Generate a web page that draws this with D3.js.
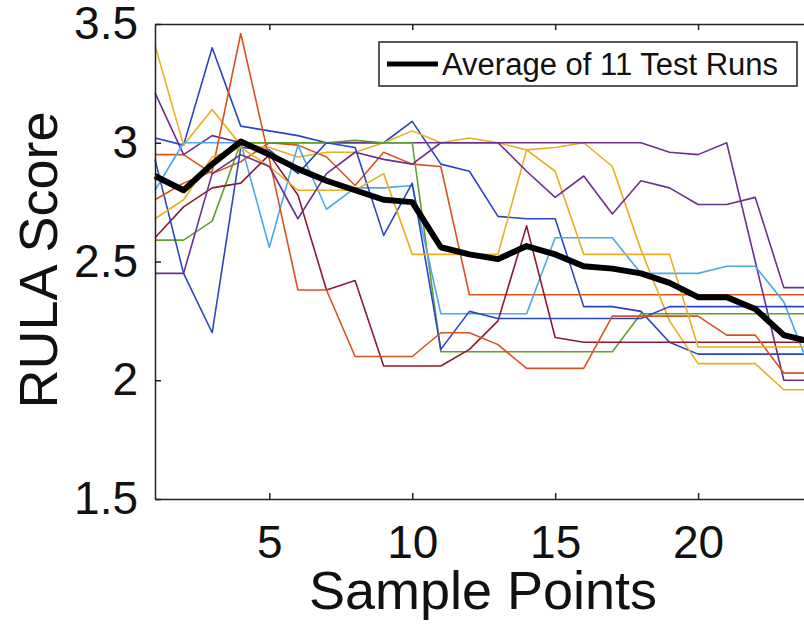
<!DOCTYPE html>
<html>
<head>
<meta charset="utf-8">
<script src="https://cdn.jsdelivr.net/npm/d3@7"></script>
<style>
  body { margin: 0; background: #fff; }
  text { font-family: "Liberation Sans", Arial, sans-serif; fill: #111; }
</style>
</head>
<body>
<script>
// sample points 1..24 (the figure is cut off on the right)
const samples = d3.range(1, 25);

const run1  = [3.02, 2.99, 3.40, 3.07, 3.05, 3.03, 3.00, 3.00, 3.00, 3.09, 2.91, 2.88, 2.69, 2.68, 2.68, 2.31, 2.31, 2.29, 2.16, 2.11, 2.11, 2.11, 2.11, 2.11];
const run2  = [2.95, 2.95, 2.87, 2.92, 3.00, 2.99, 2.94, 2.82, 2.96, 2.91, 2.90, 2.36, 2.36, 2.36, 2.36, 2.36, 2.36, 2.36, 2.36, 2.36, 2.36, 2.36, 2.36, 2.36];
const run3  = [3.41, 2.99, 3.14, 2.99, 2.98, 2.94, 2.96, 2.96, 3.00, 3.05, 3.00, 3.02, 3.00, 2.97, 2.98, 3.00, 2.90, 2.55, 2.25, 2.07, 2.07, 2.07, 1.96, 1.96];
const run4  = [3.21, 2.95, 3.03, 3.00, 3.00, 3.00, 3.00, 3.00, 3.00, 3.00, 3.00, 3.00, 3.00, 3.00, 3.00, 3.00, 3.00, 3.00, 2.96, 2.95, 3.00, 2.50, 2.00, 2.00];
const run5  = [2.59, 2.59, 2.67, 3.00, 3.00, 3.00, 3.00, 3.01, 3.00, 3.00, 2.12, 2.12, 2.12, 2.12, 2.12, 2.12, 2.12, 2.28, 2.28, 2.28, 2.28, 2.28, 2.28, 2.28];
const run6  = [2.80, 3.00, 3.00, 3.00, 2.56, 2.99, 2.72, 2.81, 2.81, 2.82, 2.28, 2.28, 2.28, 2.28, 2.60, 2.60, 2.60, 2.45, 2.45, 2.45, 2.48, 2.48, 2.33, 2.02];
const run7  = [2.60, 2.73, 2.81, 2.83, 2.95, 2.78, 2.38, 2.42, 2.06, 2.06, 2.06, 2.13, 2.25, 2.65, 2.18, 2.16, 2.16, 2.16, 2.16, 2.16, 2.16, 2.16, 2.16, 2.16];
const run8  = [2.93, 2.45, 2.20, 2.98, 2.97, 2.87, 3.00, 2.98, 2.61, 2.83, 2.13, 2.29, 2.26, 2.26, 2.26, 2.26, 2.26, 2.26, 2.31, 2.31, 2.31, 2.31, 2.31, 2.31];
const run9  = [2.76, 2.83, 2.88, 3.46, 2.93, 2.38, 2.38, 2.10, 2.10, 2.10, 2.20, 2.20, 2.15, 2.05, 2.05, 2.05, 2.27, 2.27, 2.27, 2.27, 2.19, 2.19, 2.03, 2.03];
const run10 = [2.68, 2.76, 2.94, 2.98, 2.90, 2.80, 2.80, 2.80, 2.87, 2.53, 2.53, 2.53, 2.53, 2.97, 2.88, 2.53, 2.53, 2.53, 2.53, 2.14, 2.14, 2.14, 2.14, 2.14];
const run11 = [2.45, 2.45, 2.87, 2.95, 2.90, 2.68, 2.87, 2.96, 2.93, 2.91, 3.00, 3.00, 3.00, 2.88, 2.77, 2.86, 2.70, 2.84, 2.81, 2.74, 2.74, 2.77, 2.39, 2.39];

const average = [2.86, 2.80, 2.91, 3.005, 2.95, 2.89, 2.84, 2.80, 2.76, 2.75, 2.56, 2.53, 2.51, 2.565, 2.53, 2.48, 2.47, 2.45, 2.41, 2.35, 2.35, 2.30, 2.19, 2.16];

const runs = [run1, run2, run3, run4, run5, run6, run7, run8, run9, run10, run11];
// matlab-ish colour order, cycling after 7
const runColors = ['#2b45c2', '#d9531e', '#e8b020', '#6b2f8e', '#5f9e2f', '#4aa8ee', '#8c1a30',
                   '#2b45c2', '#d9531e', '#e8b020', '#6b2f8e'];

const xTicks = [5, 10, 15, 20];
const yTicks = [1.5, 2, 2.5, 3, 3.5];

const svg = d3.select('body').append('svg').attr('width', 804).attr('height', 637);

const x = d3.scaleLinear().domain([1, 25]).range([155, 841]);
const y = d3.scaleLinear().domain([1.5, 3.5]).range([499, 24]);

const line = d3.line().x((d, i) => x(samples[i])).y(d => y(d));

// thin runs
svg.append('g').selectAll('path').data(runs).join('path')
  .attr('d', line)
  .attr('fill', 'none')
  .attr('stroke', (d, i) => runColors[i])
  .attr('stroke-width', 1.6)
  .attr('stroke-linejoin', 'round');

// average
svg.append('path').attr('d', line(average))
  .attr('fill', 'none').attr('stroke', '#000').attr('stroke-width', 6)
  .attr('stroke-linejoin', 'round');

// axes (matlab box style, ticks inside)
const axisB = d3.axisBottom(x).tickValues(xTicks).tickSize(-6).tickPadding(26).tickSizeOuter(0);
const axisT = d3.axisTop(x).tickValues(xTicks).tickSize(-6).tickFormat('').tickSizeOuter(0);
const axisL = d3.axisLeft(y).tickValues(yTicks).tickSize(-6).tickPadding(17).tickSizeOuter(0)
  .tickFormat(d3.format('~g'));

const gx = svg.append('g').attr('transform', 'translate(0,499)').call(axisB);
const gt = svg.append('g').attr('transform', 'translate(0,24)').call(axisT);
const gy = svg.append('g').attr('transform', 'translate(155,0)').call(axisL);

[gx, gt, gy].forEach(g => {
  g.select('.domain').attr('stroke', '#222').attr('stroke-width', 1.5);
  g.selectAll('.tick line').attr('stroke', '#222').attr('stroke-width', 1.5);
  g.selectAll('text').attr('font-size', 46).attr('font-family', '"Liberation Sans", Arial, sans-serif').attr('fill', '#111');
});

// axis titles
svg.append('text').attr('x', 483).attr('y', 609).attr('text-anchor', 'middle')
  .attr('font-size', 54).text('Sample Points');
svg.append('text').attr('transform', 'translate(57,260) rotate(-90)').attr('text-anchor', 'middle')
  .attr('font-size', 54).text('RULA Score');

// legend
const legend = svg.append('g').attr('transform', 'translate(379,42)');
legend.append('rect').attr('width', 418).attr('height', 44)
  .attr('fill', '#fff').attr('stroke', '#222').attr('stroke-width', 1.5);
legend.append('line').attr('x1', 8).attr('x2', 59).attr('y1', 22).attr('y2', 22)
  .attr('stroke', '#000').attr('stroke-width', 5);
legend.append('text').attr('x', 63).attr('y', 33).attr('font-size', 31).text('Average of 11 Test Runs');
</script>
</body>
</html>
